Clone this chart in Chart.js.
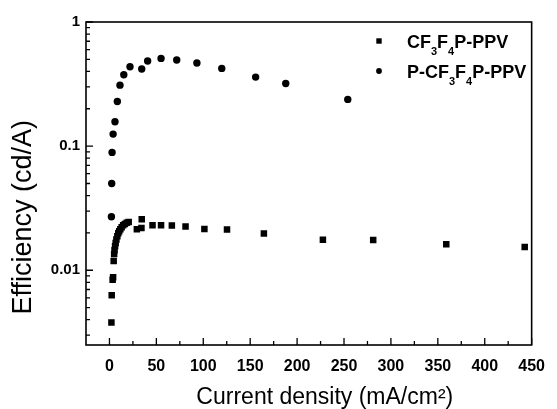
<!DOCTYPE html>
<html>
<head>
<meta charset="utf-8">
<script src="https://cdn.jsdelivr.net/npm/chart.js"></script>
<style>
  html, body { margin: 0; padding: 0; background: #fff; }
  #wrap { width: 557px; height: 409px; }
</style>
</head>
<body>
<div id="wrap"><canvas id="effChart" width="557" height="409"></canvas></div>
<script>
// CF3F4P-PPV (squares)
const sqCurrent = [2.1, 2.4, 3.4, 3.9, 4.5, 5.0, 5.4, 6.0, 6.6, 7.4, 8.4, 9.4, 10.4, 11.6, 13.0, 14.6, 16.4, 18.4, 20.5,
    29.2, 34.1, 34.4, 45.9, 55.0, 66.5, 81.1, 101.2, 125.3, 164.6, 227.5, 281.1, 359.0, 442.6];
const sqEff = [0.0038, 0.0063, 0.0084, 0.0088, 0.0119, 0.0135, 0.0145, 0.0156, 0.0166, 0.0177, 0.0188, 0.0199, 0.0206, 0.0214, 0.0222, 0.0230, 0.0236, 0.0241, 0.0245,
    0.0214, 0.0219, 0.0258, 0.0231, 0.0231, 0.0229, 0.0225, 0.0215, 0.0213, 0.0198, 0.0176, 0.0175, 0.0162, 0.0154];

// P-CF3F4P-PPV (circles)
const ciCurrent = [2.1, 2.4, 2.8, 3.9, 5.9, 8.4, 11.2, 15.3, 21.9, 34.4, 40.7, 55.0, 71.7, 93.2, 119.7, 155.8, 187.9, 254.0];
const ciEff = [0.027, 0.050, 0.089, 0.125, 0.157, 0.229, 0.310, 0.376, 0.436, 0.418, 0.485, 0.509, 0.494, 0.467, 0.423, 0.360, 0.320, 0.238];

const seriesNames = ['CF\u2083F\u2084P-PPV', 'P-CF\u2083F\u2084P-PPV'];
// legend text pieces: [text, isSubscript]
const legendParts = [
    [['CF', 0], ['3', 1], ['F', 0], ['4', 1], ['P-PPV', 0]],
    [['P-CF', 0], ['3', 1], ['F', 0], ['4', 1], ['P-PPV', 0]]
];

const yMajorTicks = [0.01, 0.1, 1];
const yMinorTicks = [0.003, 0.004, 0.005, 0.006, 0.007, 0.008, 0.009,
    0.02, 0.03, 0.04, 0.05, 0.06, 0.07, 0.08, 0.09,
    0.2, 0.3, 0.4, 0.5, 0.6, 0.7, 0.8, 0.9];
const xMajorTicks = [0, 50, 100, 150, 200, 250, 300, 350, 400, 450];
const xMinorTicks = [25, 75, 125, 175, 225, 275, 325, 375, 425];

const FONT = "'Liberation Sans', Arial, sans-serif";

const toPoints = (xs, ys) => xs.map((x, i) => ({ x, y: ys[i] }));

// box frame, inward ticks and the in-plot legend
const frameAndLegend = {
    id: 'frameAndLegend',
    afterDraw(chart) {
        const { ctx, chartArea: a, scales: { x, y } } = chart;
        ctx.save();
        ctx.strokeStyle = '#000';
        ctx.lineWidth = 1.6;
        ctx.strokeRect(a.left, a.top, a.right - a.left, a.bottom - a.top);

        ctx.lineWidth = 1.3;
        ctx.beginPath();
        yMajorTicks.forEach(v => { const p = y.getPixelForValue(v); ctx.moveTo(a.left, p); ctx.lineTo(a.left + 7, p); });
        yMinorTicks.forEach(v => { const p = y.getPixelForValue(v); ctx.moveTo(a.left, p); ctx.lineTo(a.left + 4, p); });
        xMajorTicks.forEach(v => { const p = x.getPixelForValue(v); ctx.moveTo(p, a.bottom); ctx.lineTo(p, a.bottom - 7); });
        xMinorTicks.forEach(v => { const p = x.getPixelForValue(v); ctx.moveTo(p, a.bottom); ctx.lineTo(p, a.bottom - 4); });
        ctx.stroke();

        // legend
        ctx.fillStyle = '#000';
        const mx = 379, tx = 407, rows = [41, 71];
        rows.forEach((ry, i) => {
            if (i === 0) {
                ctx.fillRect(mx - 2.7, ry - 2.7, 5.4, 5.4);
            } else {
                ctx.beginPath();
                ctx.arc(mx, ry, 2.9, 0, Math.PI * 2);
                ctx.fill();
            }
            let cx = tx;
            ctx.textBaseline = 'alphabetic';
            legendParts[i].forEach(([t, sub]) => {
                ctx.font = sub ? 'bold 11px ' + FONT : 'bold 18px ' + FONT;
                ctx.fillText(t, cx, sub ? ry + 14 : ry + 6.5);
                cx += ctx.measureText(t).width;
            });
        });
        ctx.restore();
    }
};

new Chart(document.getElementById('effChart'), {
    type: 'scatter',
    data: {
        datasets: [{
            label: seriesNames[0],
            data: toPoints(sqCurrent, sqEff),
            pointStyle: 'rect',
            pointRadius: 4.6,
            backgroundColor: '#000',
            borderColor: '#000',
            borderWidth: 0
        }, {
            label: seriesNames[1],
            data: toPoints(ciCurrent, ciEff),
            pointStyle: 'circle',
            pointRadius: 3.7,
            backgroundColor: '#000',
            borderColor: '#000',
            borderWidth: 0
        }]
    },
    options: {
        responsive: false,
        animation: false,
        devicePixelRatio: 1,
        layout: { padding: { left: 0, right: 16, top: 22, bottom: 0 } },
        plugins: {
            legend: { display: false },
            tooltip: { enabled: false }
        },
        scales: {
            x: {
                type: 'linear',
                min: -25,
                max: 450,
                afterFit: s => { s.height = 64; },
                grid: { display: false, drawTicks: false },
                border: { display: false },
                ticks: {
                    stepSize: 50,
                    includeBounds: false,
                    autoSkip: false,
                    maxRotation: 0,
                    padding: 12,
                    color: '#000',
                    font: { family: FONT, size: 16, weight: 'bold' },
                    callback: v => xMajorTicks.includes(v) ? String(v) : ''
                },
                title: {
                    display: true,
                    text: '     Current density (mA/cm\u00b2)',
                    color: '#000',
                    padding: 0,
                    font: { family: FONT, size: 23, lineHeight: 1.0 }
                }
            },
            y: {
                type: 'logarithmic',
                min: 0.0025,
                max: 1,
                afterFit: s => { s.width = 86; },
                grid: { display: false, drawTicks: false },
                border: { display: false },
                ticks: {
                    autoSkip: false,
                    padding: 6,
                    color: '#000',
                    font: { family: FONT, size: 15, weight: 'bold' },
                    callback: v => {
                        const hit = yMajorTicks.find(t => Math.abs(t - v) < t * 1e-6);
                        return hit === undefined ? '' : String(hit);
                    }
                },
                title: {
                    display: true,
                    text: 'Efficiency (cd/A)         ',
                    color: '#000',
                    padding: { top: 10, bottom: 0 },
                    font: { family: FONT, size: 27, lineHeight: 1.0 }
                }
            }
        }
    },
    plugins: [frameAndLegend]
});
</script>
</body>
</html>
